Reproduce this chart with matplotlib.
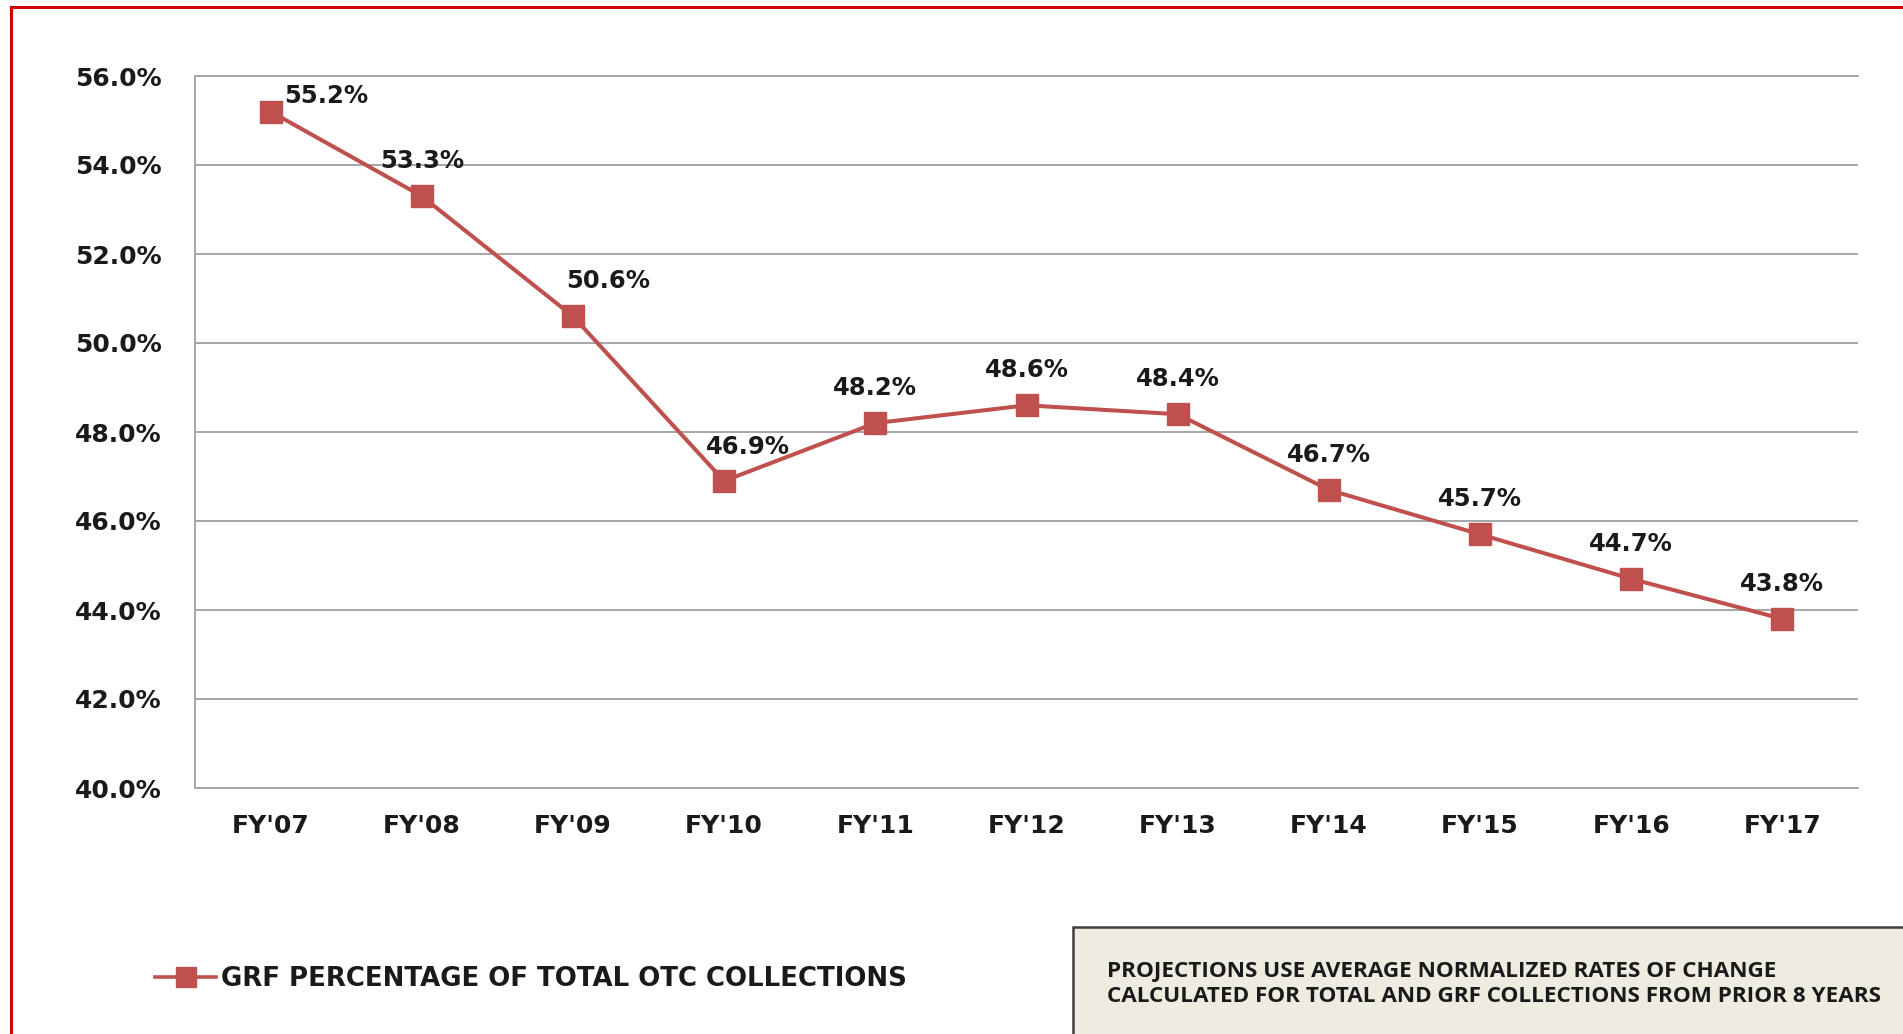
import matplotlib.pyplot as plt
from matplotlib.patches import Rectangle
from matplotlib.lines import Line2D

# data
years = ["FY'07", "FY'08", "FY'09", "FY'10", "FY'11", "FY'12",
         "FY'13", "FY'14", "FY'15", "FY'16", "FY'17"]
grf_pct = [55.2, 53.3, 50.6, 46.9, 48.2, 48.6, 48.4, 46.7, 45.7, 44.7, 43.8]
y_ticks = [40, 42, 44, 46, 48, 50, 52, 54, 56]
series_name = "GRF PERCENTAGE OF TOTAL OTC COLLECTIONS"
note_lines = ["PROJECTIONS USE AVERAGE NORMALIZED RATES OF CHANGE",
              "CALCULATED FOR TOTAL AND GRF COLLECTIONS FROM PRIOR 8 YEARS"]

# label nudges in pixels (most labels sit straight above the marker)
label_shift = {0: (56, 16), 2: (35, 35), 3: (24, 34)}
default_shift = (0, 35)

W, H = 1903, 1034
LINE = '#C0504D'
GRID = '#A6A6A6'
TXT = '#1a1a1a'

fig = plt.figure(figsize=(W / 100, H / 100), dpi=100)
ax = fig.add_axes([195 / W, 1 - 788 / H, (1858 - 195) / W, (788 - 76) / H])

x = list(range(len(years)))
ax.plot(x, grf_pct, color=LINE, lw=2.9, marker='s', ms=16.5, mec=LINE, mfc=LINE)

for i, v in enumerate(grf_pct):
    dx, dy = label_shift.get(i, default_shift)
    ax.annotate(f"{v:.1f}%", (i, v), xytext=(dx, dy), textcoords='offset pixels',
                ha='center', va='center', fontsize=17.5, fontweight='bold', color=TXT)

ax.set_xlim(-0.5, len(years) - 0.5)
ax.set_ylim(40, 56)
ax.set_yticks(y_ticks)
ax.set_yticklabels([f"{t:.1f}%" for t in y_ticks])
ax.set_xticks(x)
ax.set_xticklabels(years)
ax.tick_params(axis='both', length=0, labelsize=18, labelcolor=TXT)
ax.tick_params(axis='y', pad=24)
ax.tick_params(axis='x', pad=19)
for lab in ax.get_xticklabels() + ax.get_yticklabels():
    lab.set_fontweight('bold')

ax.grid(axis='y', color=GRID, lw=1.4)
ax.set_axisbelow(True)
for side in ['left', 'bottom', 'top']:
    ax.spines[side].set_color(GRID)
    ax.spines[side].set_linewidth(1.4)
ax.spines['right'].set_visible(False)

# legend
handle = Line2D([], [], color=LINE, lw=2.6, marker='s', ms=15, mec=LINE, mfc=LINE)
leg = fig.legend([handle], [series_name], loc='center left',
                 bbox_to_anchor=(155 / W, 1 - 979 / H), frameon=False,
                 borderpad=0, borderaxespad=0, handlelength=2.35, handletextpad=0.2,
                 prop={'family': 'DejaVu Sans', 'weight': 'bold', 'size': 18.7})
for t in leg.get_texts():
    t.set_color(TXT)

# note box at bottom right
fig.patches.append(Rectangle((1073 / W, -0.05), 0.5, (1 - 927 / H) + 0.05,
                             transform=fig.transFigure, facecolor='#EEECE1',
                             edgecolor='#3F3F3F', lw=1.8, zorder=1))
for k, line in enumerate(note_lines):
    fig.text(1107 / W, 1 - (972 + 24 * k) / H, line, ha='left', va='center',
             family='Open Sans', fontweight='bold', fontsize=16.2, color=TXT, zorder=3)

# red frame
fig.patches.append(Rectangle((11 / W, -0.05), 1.1, (1 - 7 / H) + 0.05,
                             transform=fig.transFigure, fill=False,
                             edgecolor='#D40000', lw=2.2, zorder=5))

fig.savefig('out.png', dpi=100)
